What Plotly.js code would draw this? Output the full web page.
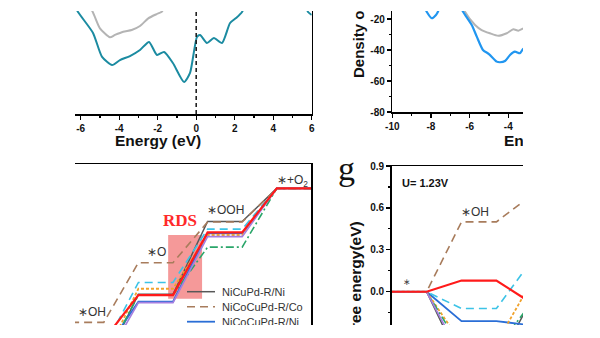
<!DOCTYPE html>
<html><head><meta charset="utf-8">
<script src="https://cdn.plot.ly/plotly-3.0.1.min.js"></script>
<style>
html,body{margin:0;padding:0;background:#fff;width:600px;height:338px;overflow:hidden;}
#clip{position:absolute;left:75px;top:11px;width:448px;height:314px;overflow:hidden;background:#fff;}
#plot{position:absolute;left:-75px;top:-161px;width:760px;height:620px;}
</style></head><body>
<div id="clip"><div id="plot"></div></div>
<script>
// ---------- DATA ----------
// Panel A: DOS (left), energy (eV) vs DOS
const a_teal_E   = [-7.0,-6.6,-6.14,-5.36,-4.89,-4.37,-3.96,-3.44,-2.92,-2.45,-2.04,-1.67,-1.21,-0.63,-0.32,0.04,0.20,0.56,0.92,1.34,1.76,2.07,2.38,2.8,3.6,4.6,5.5,5.81,6.0];
const a_teal_dos = [5,-4,-14.2,-27.7,-43.2,-48.4,-45.2,-42.6,-38.7,-33.5,-41.9,-40.0,-47.1,-59.4,-53.5,-30.3,-29.0,-34.2,-31.0,-34.2,-21.3,-18.1,-14.2,-2,5,5,-4,-14.2,-16.1];
const a_gray_E   = [-7.0,-6.2,-5.43,-5.0,-4.48,-4.22,-3.79,-3.35,-2.92,-2.49,-2.05,-1.79,-1.3,-0.5];
const a_gray_dos = [5,-3,-12.9,-24.7,-30.5,-29.0,-26.9,-25.8,-23.2,-18.3,-15.5,-14.0,-3,5];
// Panel B: DOS (right)
const b_blue_E   = [-9.0,-8.6,-8.22,-7.96,-7.74,-7.64,-7.3,-6.8,-6.34,-5.89,-5.63,-5.31,-5.00,-4.60,-4.43,-4.17,-3.91,-3.66,-3.40,-3.24,-3.0];
const b_blue_dos = [5,-5,-15.3,-19.5,-17.4,-15.3,-5,-5,-15.3,-23.9,-31.4,-40.0,-42.6,-47.5,-47.9,-47.1,-43.2,-41.1,-42.1,-39.4,-38];
const b_gray_E   = [-7.2,-6.6,-6.24,-5.72,-5.38,-4.95,-4.52,-4.08,-3.74,-3.48,-3.22,-2.9];
const b_gray_dos = [5,-5,-15.3,-23.9,-27.1,-29.2,-30.8,-29.2,-26.6,-27.5,-26.0,-24];
const eTickVals = [-10,-8,-6,-4,-2,0,2,4,6];
const eTickText = ['-10','-8','-6','-4','-2','0','2','4','6'];
const dosTickVals = [-80,-60,-40,-20,0,20,40,60,80];
const dosTickText = ['-80','-60','-40','-20','0','20','40','60','80'];
const gTickVals = [-0.9,-0.6,-0.3,0,0.3,0.6,0.9];
const gTickText = ['-0.9','-0.6','-0.3','0.0','0.3','0.6','0.9'];

// Panels C/D: OER free energy diagrams
const states = ['*','*OH','*O','*OOH','*+O2'];
const seriesNames = ['NiCuPd-R/Ni','NiCoCuPd-R/Co','NiCoCuPd-R/Ni','NiCoCuPd-R/Cu','NiCoCuPd-R/Pd','NiCuPd-R/Cu','NiCuPd-R/Pd','NiCoCuPd-R'];
const legendShown = 3;
// U = 0 V (panel C), eV
const gU0 = [
  [0,0.71,2.40,4.13,4.92],
  [0,1.73,3.15,4.12,4.92],
  [0,1.02,2.22,3.85,4.92],
  [0,1.11,2.68,3.95,4.92],
  [0,0.86,2.53,3.81,4.92],
  [0,0.82,2.38,3.52,4.92],
  [0,0.76,2.20,3.77,4.92],
  [0,1.31,2.38,3.87,4.92]
];
// U = 1.23 V (panel D), eV
const gU123 = [
  [0,-0.52,-0.06,0.44,0],
  [0,0.50,0.69,0.43,0],
  [0,-0.21,-0.24,0.16,0],
  [0,-0.12,0.22,0.26,0],
  [0,-0.37,0.07,0.12,0],
  [0,-0.41,-0.08,-0.17,0],
  [0,-0.47,-0.26,0.08,0],
  [0,0.08,-0.08,0.18,0]
];

// ---------- STYLE ----------
const colors = ['#585858','#a87c5c','#2a6ed6','#3cc3e6','#f0a22c','#2aa66a','#a57ee0','#ff1a1a'];
const dashes = ['solid','8px,5px','solid','8px,5px','3px,2px','8px,3px,2px,3px','solid','solid'];
const widths = [1.5,1.6,1.8,1.6,1.8,1.6,1.6,2.2];
const SANS = 'Liberation Sans, Arial, sans-serif';
const W=760,H=620,OY=-150;
const PX=p=>p/W, PY=p=>1-(p-OY)/H;

const traces = [];
traces.push({x:a_teal_E,y:a_teal_dos,xaxis:'x',yaxis:'y',mode:'lines',line:{color:'#1b8ba1',width:2,shape:'spline',smoothing:0.6},showlegend:false});
traces.push({x:a_gray_E,y:a_gray_dos,xaxis:'x',yaxis:'y',mode:'lines',line:{color:'#b4b4b4',width:2,shape:'spline',smoothing:0.6},showlegend:false});
traces.push({x:b_gray_E,y:b_gray_dos,xaxis:'x2',yaxis:'y2',mode:'lines',line:{color:'#b4b4b4',width:2,shape:'spline',smoothing:0.6},showlegend:false});
traces.push({x:b_blue_E,y:b_blue_dos,xaxis:'x2',yaxis:'y2',mode:'lines',line:{color:'#2196f0',width:2.2,shape:'spline',smoothing:0.6},showlegend:false});

function stepXY(vals){
  const xs=[],ys=[];
  vals.forEach((v,k)=>{xs.push(2*k,2*k+1);ys.push(v,v);});
  return [xs,ys];
}
seriesNames.forEach((n,i)=>{
  const [xc,yc]=stepXY(gU0[i]);
  traces.push({x:xc,y:yc,xaxis:'x3',yaxis:'y3',mode:'lines',name:n,line:{color:colors[i],width:widths[i],dash:dashes[i]},showlegend:false});
  const [xd,yd]=stepXY(gU123[i]);
  traces.push({x:xd,y:yd,xaxis:'x4',yaxis:'y4',mode:'lines',name:n,line:{color:colors[i],width:widths[i],dash:dashes[i]},showlegend:false});
});

const tickFont={family:SANS,size:10,color:'#111',weight:'bold'};
const baseAx={showgrid:false,zeroline:false,showline:true,linecolor:'#000',linewidth:1.5,tickcolor:'#000',tickwidth:1.2,tickfont:tickFont};

const shapes=[];
// zero-energy dashed line (panel A)
shapes.push({type:'line',xref:'x',yref:'y',x0:0,x1:0,y0:-80,y1:80,line:{color:'#222',width:1.6,dash:'4px,3px'}});
// RDS highlight (panel C)
shapes.push({type:'rect',xref:'x3',yref:'y3',x0:4.86,x1:5.84,y0:2.29,y1:3.81,fillcolor:'rgba(238,80,80,0.58)',line:{width:0},layer:'below'});

const annotations=[];
const ann=(px,py,text,opt)=>annotations.push(Object.assign({xref:'paper',yref:'paper',x:PX(px),y:PY(py),text:text,showarrow:false,xanchor:'center',yanchor:'middle',font:{family:SANS,size:12,color:'#333'}},opt||{}));
ann(157.7,140,'Energy (eV)',{borderpad:0,font:{family:SANS,size:15.5,color:'#111',weight:'bold'}});
ann(546.9,140,'Energy (eV)',{borderpad:0,font:{family:SANS,size:15.5,color:'#111',weight:'bold'}});
ann(358,80,'Density of states',{textangle:-90,yanchor:'bottom',font:{family:SANS,size:15,color:'#111',weight:'bold'}});
ann(355,220,'Free energy(eV)',{textangle:-90,yanchor:'top',font:{family:SANS,size:15.5,color:'#111',weight:'bold'}});
ann(346,168,'g',{font:{family:'Liberation Serif, Times New Roman, serif',size:34,color:'#111'}});
// state labels, panel C
ann(76,312,'∗OH',{xanchor:'left'});
ann(156,252,'∗O');
ann(226,210,'∗OOH');
ann(292,181,'∗+O<sub>2</sub>');
ann(180,220,'RDS',{font:{family:'Liberation Serif, Times New Roman, serif',size:17,color:'#ff2a2a',weight:'bold'}});
// panel D labels
ann(400,183,'U= 1.23V',{xanchor:'left',font:{family:SANS,size:11,color:'#111',weight:'bold'}});
ann(407,282,'∗',{font:{family:SANS,size:9,color:'#444'}});
ann(475,212,'∗OH');
// manual legend (panel C), only the rows that fall inside the figure
seriesNames.slice(0,legendShown).forEach((n,i)=>{
  const yy=291.7+15*i;
  shapes.push({type:'line',xref:'paper',yref:'paper',x0:PX(187),x1:PX(215),y0:PY(yy),y1:PY(yy),line:{color:colors[i],width:widths[i],dash:dashes[i]}});
  ann(220,yy,n,{xanchor:'left',font:{family:SANS,size:11,color:'#333'}});
});

const layout={
  width:W,height:H,margin:{l:0,r:0,t:0,b:0},paper_bgcolor:'#fff',plot_bgcolor:'rgba(0,0,0,0)',showlegend:false,
  xaxis:Object.assign({},baseAx,{domain:[PX(3.7),PX(311.7)],range:[-10,6],anchor:'y',mirror:true,ticks:'outside',ticklen:4,tickvals:eTickVals,ticktext:eTickText,minor:{dtick:1,ticks:'outside',ticklen:2,tickcolor:'#000'}}),
  yaxis:Object.assign({},baseAx,{domain:[PY(114),PY(-134)],range:[-80,80],anchor:'x',mirror:true,ticks:'outside',ticklen:4,tickvals:dosTickVals,ticktext:dosTickText}),
  xaxis2:Object.assign({},baseAx,{domain:[PX(392.3),PX(701.6)],range:[-10,6],anchor:'y2',mirror:true,ticks:'outside',ticklen:4,tickvals:eTickVals,ticktext:eTickText,minor:{dtick:1,ticks:'outside',ticklen:2,tickcolor:'#000'}}),
  yaxis2:Object.assign({},baseAx,{domain:[PY(112),PY(-136)],range:[-80,80],anchor:'x2',mirror:true,ticks:'outside',ticklen:4,tickvals:dosTickVals,ticktext:dosTickText,minor:{dtick:10,ticks:'outside',ticklen:2,tickcolor:'#000'}}),
  xaxis3:Object.assign({},baseAx,{domain:[PX(3.7),PX(311.4)],range:[0.107,9],anchor:'y3',mirror:true,ticks:'',showticklabels:false}),
  yaxis3:Object.assign({},baseAx,{domain:[PY(416),PY(164)],range:[-0.5,5.5],anchor:'x3',mirror:true,ticks:'',showticklabels:false}),
  xaxis4:Object.assign({},baseAx,{domain:[PX(391.7),PX(705.8)],range:[0,9],anchor:'y4',mirror:true,ticks:'',showticklabels:false}),
  yaxis4:Object.assign({},baseAx,{domain:[PY(417.5),PY(166)],range:[-0.9,0.9],anchor:'x4',mirror:true,ticks:'outside',ticklen:4,tickvals:gTickVals,ticktext:gTickText,minor:{dtick:0.15,ticks:'outside',ticklen:2,tickcolor:'#000'}}),
  shapes:shapes,annotations:annotations
};
Plotly.newPlot('plot',traces,layout,{staticPlot:true,displayModeBar:false});
</script></body></html>
